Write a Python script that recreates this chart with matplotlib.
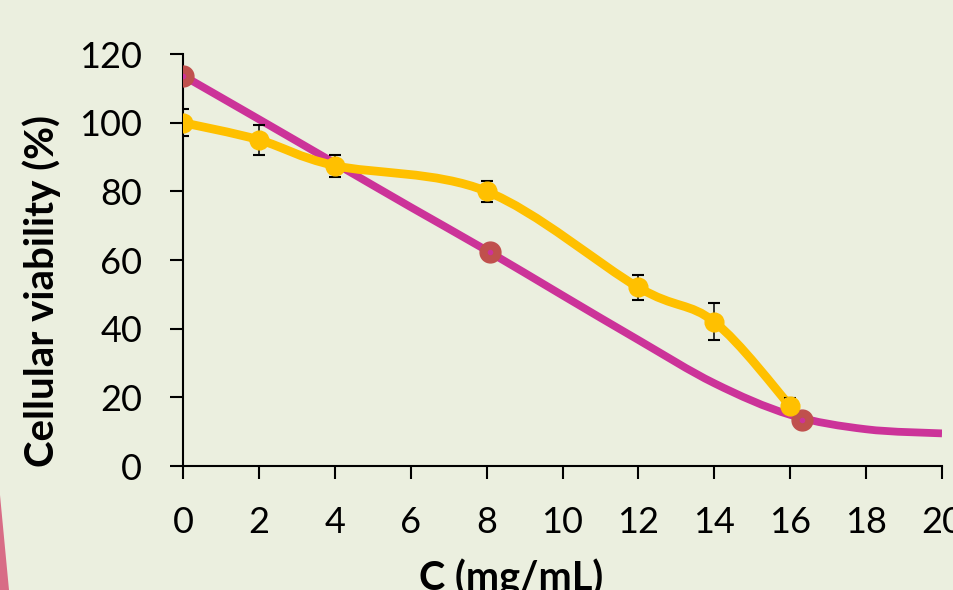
import matplotlib
matplotlib.use("Agg")
import matplotlib.pyplot as plt
from matplotlib.path import Path
from matplotlib.patches import PathPatch, Polygon
import numpy as np

# yellow series (mean +/- error)
conc = [0, 2, 4, 8, 12, 14, 16]
viab = [100, 95, 87.5, 80, 52, 42, 17.5]
viab_err = [4, 4.3, 3.2, 3, 3.6, 5.4, 2.2]

# magenta curve
fit_x = [0, 2, 4, 6, 8, 10, 12, 14, 16, 18, 20]
fit_y = [113.7, 101.0, 88.2, 75.4, 62.8, 49.7, 36.7, 24.1, 14.9, 10.7, 9.5]

# red points on the curve
pts_x = [0, 8.1, 16.3]
pts_y = [113.6, 62.3, 13.4]

x_ticks = [0, 2, 4, 6, 8, 10, 12, 14, 16, 18, 20]
y_ticks = [0, 20, 40, 60, 80, 100, 120]

bg = '#EBEFDF'
yellow = '#FFC000'
magenta = '#CC3399'
red = '#C0504D'


def smooth_path(xs, ys):
    # excel-like smoothed line: catmull-rom segments as cubic beziers
    p = np.column_stack([xs, ys]).astype(float)
    p = np.vstack([p[0], p, p[-1]])
    verts = [p[1]]
    codes = [Path.MOVETO]
    for i in range(1, len(p) - 2):
        c1 = p[i] + (p[i + 1] - p[i - 1]) / 6
        c2 = p[i + 1] - (p[i + 2] - p[i]) / 6
        verts += [c1, c2, p[i + 1]]
        codes += [Path.CURVE4] * 3
    return Path(verts, codes)


plt.rcParams['font.family'] = ['Lato', 'DejaVu Sans']

fig = plt.figure(figsize=(9.54, 5.90), dpi=100)
fig.patch.set_facecolor(bg)
ax = fig.add_axes([183 / 954, 1 - 466 / 590, 759 / 954, 412 / 590])
ax.set_facecolor(bg)

ax.add_patch(PathPatch(smooth_path(fit_x, fit_y), facecolor='none', edgecolor=magenta,
                       lw=5.6, capstyle='butt', zorder=2))
ax.plot(pts_x, pts_y, 'o', color=red, ms=15, zorder=3)
ax.plot(pts_x, pts_y, 'o', color=magenta, ms=3, zorder=3.1)

ax.add_patch(PathPatch(smooth_path(conc, viab), facecolor='none', edgecolor=yellow,
                       lw=6.3, capstyle='butt', zorder=4))
ax.errorbar(conc, viab, yerr=viab_err, fmt='none', ecolor='black', elinewidth=1.1,
            capsize=4.5, capthick=1.5, zorder=4.5)
ax.plot(conc, viab, 'o', color=yellow, ms=13.5, zorder=5)

ax.set_xlim(0, 20)
ax.set_ylim(0, 120)
ax.set_xticks(x_ticks)
ax.set_yticks(y_ticks)
for s in ['top', 'right']:
    ax.spines[s].set_visible(False)
for s in ['left', 'bottom']:
    ax.spines[s].set_linewidth(1.5)
ax.tick_params(axis='both', direction='out', length=9.5, width=1.5, labelsize=26)
ax.tick_params(axis='y', pad=20)
ax.tick_params(axis='x', pad=19)
for sp in ax.spines.values():
    sp.set_clip_on(False)

fig.text(42 / 954, 1 - 291 / 590, 'Cellular viability (%)', rotation=90, fontsize=29,
         fontweight='bold', ha='center', va='center')
fig.text(511 / 954, 1 - 559 / 590, 'C (mg/mL)', fontsize=28.5, fontweight='bold',
         ha='center', va='top')

# bit of a neighbouring picture in the corner
fig.patches.append(Polygon([[0, 0], [9 / 954, 0], [0, 95 / 590]], closed=True,
                           transform=fig.transFigure, facecolor='#D86C86', edgecolor='none'))

fig.savefig('out.png', dpi=100, facecolor=bg)
